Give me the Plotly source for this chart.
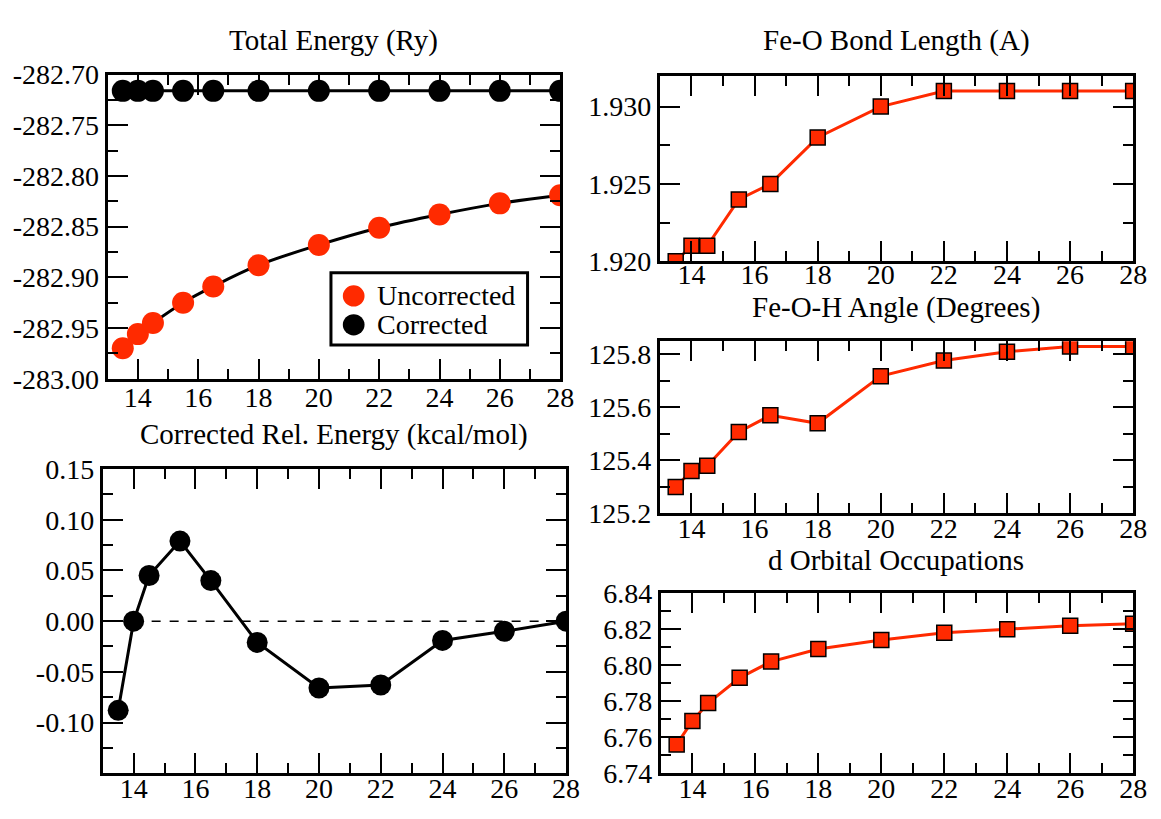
import plotly.graph_objects as go

# Box sizes (common abscissa for every panel)
box = [13.5, 14, 14.5, 15.5, 16.5, 18, 20, 22, 24, 26, 28]

# Total energies (Ry)
e_uncorrected = [-282.970, -282.956, -282.945, -282.925, -282.909, -282.888,
                 -282.868, -282.851, -282.838, -282.827, -282.819]
e_corrected = [-282.716, -282.716, -282.716, -282.716, -282.716, -282.716,
               -282.716, -282.716, -282.716, -282.716, -282.716]

# Corrected relative energy (kcal/mol)
rel_energy = [-0.088, 0.000, 0.045, 0.079, 0.040, -0.021,
              -0.066, -0.063, -0.019, -0.010, 0.000]
zero_x = [14, 28]
zero_y = [0.0, 0.0]

# Structural / electronic quantities
feo_bond = [1.920, 1.921, 1.921, 1.924, 1.925, 1.928,
            1.930, 1.931, 1.931, 1.931, 1.931]
feoh_angle = [125.30, 125.36, 125.38, 125.507, 125.57, 125.54,
              125.718, 125.777, 125.81, 125.83, 125.83]
d_occ = [6.756, 6.769, 6.779, 6.793, 6.802, 6.809,
         6.814, 6.818, 6.820, 6.822, 6.823]

# Tick values / labels
x_ticks = [14, 16, 18, 20, 22, 24, 26, 28]
energy_ticks = [-283.00, -282.95, -282.90, -282.85, -282.80, -282.75, -282.70]
rel_ticks = [-0.10, -0.05, 0.00, 0.05, 0.10, 0.15]
bond_ticks = [1.920, 1.925, 1.930]
angle_ticks = [125.2, 125.4, 125.6, 125.8]
occ_ticks = [6.74, 6.76, 6.78, 6.80, 6.82, 6.84]

legend_names = ["Uncorrected", "Corrected"]

RED = "#ff2a00"
FONT = "'Liberation Serif', Tinos, 'DejaVu Serif', serif"
FS = 28
FS_TITLE = 29
W, H = 1161, 819


def dom_x(a, b):
    return [a / W, b / W]


def dom_y(top, bottom):
    return [1 - bottom / H, 1 - top / H]


def axis(domain, rng, ticks, fmt, minor_step, anchor, standoff=0):
    return dict(
        domain=domain, range=rng, anchor=anchor,
        tickmode="array", tickvals=ticks,
        ticktext=[format(t, fmt) for t in ticks],
        ticks="inside", ticklen=20, tickwidth=2, tickcolor="black",
        minor=dict(ticks="inside", ticklen=10, tickwidth=2, tickcolor="black",
                   tickmode="linear", tick0=ticks[0], dtick=minor_step,
                   showgrid=False),
        showline=True, linewidth=3, linecolor="black", mirror="allticks",
        showgrid=False, zeroline=False,
        ticklabelstandoff=standoff,
        tickfont=dict(family=FONT, size=FS, color="black"),
    )


fig = go.Figure()

# Panel 1: total energy
fig.add_trace(go.Scatter(x=box, y=e_uncorrected, mode="lines",
                         line=dict(color="black", width=3, shape="spline"),
                         showlegend=False, xaxis="x", yaxis="y"))
fig.add_trace(go.Scatter(x=box, y=e_corrected, mode="lines",
                         line=dict(color="black", width=3),
                         showlegend=False, xaxis="x", yaxis="y"))
fig.add_trace(go.Scatter(x=box, y=e_uncorrected, mode="markers", name=legend_names[0],
                         marker=dict(color=RED, size=22, line=dict(width=0)),
                         showlegend=False, xaxis="x", yaxis="y"))
fig.add_trace(go.Scatter(x=box, y=e_corrected, mode="markers", name=legend_names[1],
                         marker=dict(color="black", size=22, line=dict(width=0)),
                         showlegend=False, xaxis="x", yaxis="y"))

# Panel 2: corrected relative energy
fig.add_trace(go.Scatter(x=zero_x, y=zero_y, mode="lines",
                         line=dict(color="black", width=1.5, dash="dash"),
                         showlegend=False, xaxis="x2", yaxis="y2"))
fig.add_trace(go.Scatter(x=box, y=rel_energy, mode="lines+markers",
                         line=dict(color="black", width=3),
                         marker=dict(color="black", size=21),
                         showlegend=False, xaxis="x2", yaxis="y2"))

# Panels 3-5: red square series
for series, xa, ya in [(feo_bond, "x3", "y3"), (feoh_angle, "x4", "y4"), (d_occ, "x5", "y5")]:
    fig.add_trace(go.Scatter(x=box, y=series, mode="lines+markers",
                             line=dict(color=RED, width=3),
                             marker=dict(symbol="square", color=RED, size=15,
                                         line=dict(color="black", width=1.5)),
                             showlegend=False, xaxis=xa, yaxis=ya))

xr = [13, 28]
fig.update_layout(
    width=W, height=H, margin=dict(l=0, r=0, t=0, b=0),
    paper_bgcolor="white", plot_bgcolor="white",
    font=dict(family=FONT, size=FS, color="black"),
    showlegend=False,
    xaxis=axis(dom_x(109, 567), xr, x_ticks, "d", 1, "y", -8),
    yaxis=axis(dom_y(62, 378), [-283.0, -282.70], energy_ticks, ".2f", 0.025, "x"),
    xaxis2=axis(dom_x(104, 573), xr, x_ticks, "d", 1, "y2", -12),
    yaxis2=axis(dom_y(472, 788), [-0.15, 0.15], rel_ticks, ".2f", 0.025, "x2"),
    xaxis3=axis(dom_x(668, 1147), xr, x_ticks, "d", 1, "y3", -14),
    yaxis3=axis(dom_y(63, 256), [1.920, 1.932], bond_ticks, ".3f", 0.0025, "x3"),
    xaxis4=axis(dom_x(668, 1147), xr, x_ticks, "d", 1, "y4", -12),
    yaxis4=axis(dom_y(339, 518), [125.2, 125.85], angle_ticks, ".1f", 0.1, "x4"),
    xaxis5=axis(dom_x(669, 1147), xr, x_ticks, "d", 1, "y5", -12),
    yaxis5=axis(dom_y(601, 788), [6.74, 6.84], occ_ticks, ".2f", 0.01, "x5"),
)
fig.update_layout(yaxis2_minor_tick0=-0.15)

# Legend box for the total-energy panel
fig.add_shape(type="rect", xref="paper", yref="paper",
              x0=335 / W, x1=534 / W, y0=1 - 343 / H, y1=1 - 268 / H,
              line=dict(color="black", width=3), fillcolor="white", layer="above")
for name, color, cy in [(legend_names[0], RED, 292), (legend_names[1], "black", 322)]:
    fig.add_shape(type="circle", xref="paper", yref="paper",
                  x0=(358 - 11) / W, x1=(358 + 11) / W,
                  y0=1 - (cy + 11) / H, y1=1 - (cy - 11) / H,
                  line=dict(width=0), fillcolor=color, layer="above")
    fig.add_annotation(text=name, x=380 / W, y=1 - cy / H, xref="paper", yref="paper",
                       xanchor="left", yanchor="middle", showarrow=False,
                       font=dict(family=FONT, size=FS, color="black"))

titles = [
    ("Total Energy (Ry)", 338, 26),
    ("Corrected Rel. Energy (kcal/mol)", 338, 436),
    ("Fe-O Bond Length (A)", 907, 26),
    ("Fe-O-H Angle (Degrees)", 907, 304),
    ("d Orbital Occupations", 907, 566),
]
for text, cx, cy in titles:
    fig.add_annotation(text=text, x=cx / W, y=1 - cy / H, xref="paper", yref="paper",
                       xanchor="center", yanchor="middle", showarrow=False,
                       font=dict(family=FONT, size=FS_TITLE, color="black"))

fig.write_html("out.html")
